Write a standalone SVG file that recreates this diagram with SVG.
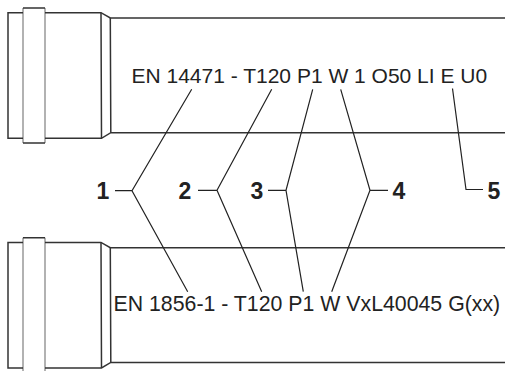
<svg xmlns="http://www.w3.org/2000/svg" width="505" height="371" viewBox="0 0 505 371">
  <style>
    .pipe { fill: none; stroke: #333; stroke-width: 1.5; stroke-linejoin: miter; }
    .band { fill: none; stroke: #999; stroke-width: 1.5; }
    .lead { fill: none; stroke: #222; stroke-width: 1.2; }
    .code { font-family: "Liberation Sans", Arial, sans-serif; font-size: 21px; fill: #222; }
    .num { font-family: "Liberation Sans", Arial, sans-serif; font-size: 23px; font-weight: bold; fill: #222; text-anchor: middle; }
  </style>
  <defs>
    <g id="pipeShape">
      <rect x="0" y="0" width="505" height="150" fill="#fff" stroke="none"/>
      <path class="band" d="M23 143 V8 M45 8 V143"/>
      <path class="pipe" d="M23 8 H45 M23 143 H45"/>
      <path class="pipe" d="M23 12.7 H8 V138.3 H23"/>
      <path class="pipe" d="M505 18 H110.3 L101 12.7 H45"/>
      <path class="pipe" d="M45 138.3 H101.5 L110.8 132.7 H505"/>
      <path class="pipe" d="M101 12.7 L101.5 138.3 M110.3 18 L110.8 132.7"/>
    </g>
  </defs>
  <rect width="505" height="371" fill="#fff"/>
  <g id="pipe-top">
    <use href="#pipeShape"/>
    <text class="code" x="131.5" y="83.3">EN 14471 - T120 P1 W 1 O50 LI E U0</text>
  </g>
  <g id="pipe-bottom" transform="translate(0,229.7)">
    <use href="#pipeShape"/>
  </g>
  <text id="code-bottom" class="code" x="113.5" y="311" style="font-size:21.3px">EN 1856-1 - T120 P1 W VxL40045 G(xx)</text>
  <g id="connectors">
    <path class="lead" d="M191.7 89.3 L132 190.7 L187.7 291.7 M132 190.7 H115"/>
    <path class="lead" d="M271.7 89.3 L217 190.3 L261.7 291.7 M217 190.3 H198"/>
    <path class="lead" d="M312.7 89.3 L286 190.3 L303.3 291.7 M286 190.3 H268"/>
    <path class="lead" d="M340.7 89.3 L370 190.3 L331.7 291.7 M370 190.3 H388"/>
    <path class="lead" d="M452.5 88.5 L466 189.5 H483"/>
  </g>
  <g id="label-1"><text class="num" x="103" y="199">1</text></g>
  <g id="label-2"><text class="num" x="185" y="199">2</text></g>
  <g id="label-3"><text class="num" x="257" y="199">3</text></g>
  <g id="label-4"><text class="num" x="399" y="199">4</text></g>
  <g id="label-5"><text class="num" x="494" y="199">5</text></g>
</svg>
